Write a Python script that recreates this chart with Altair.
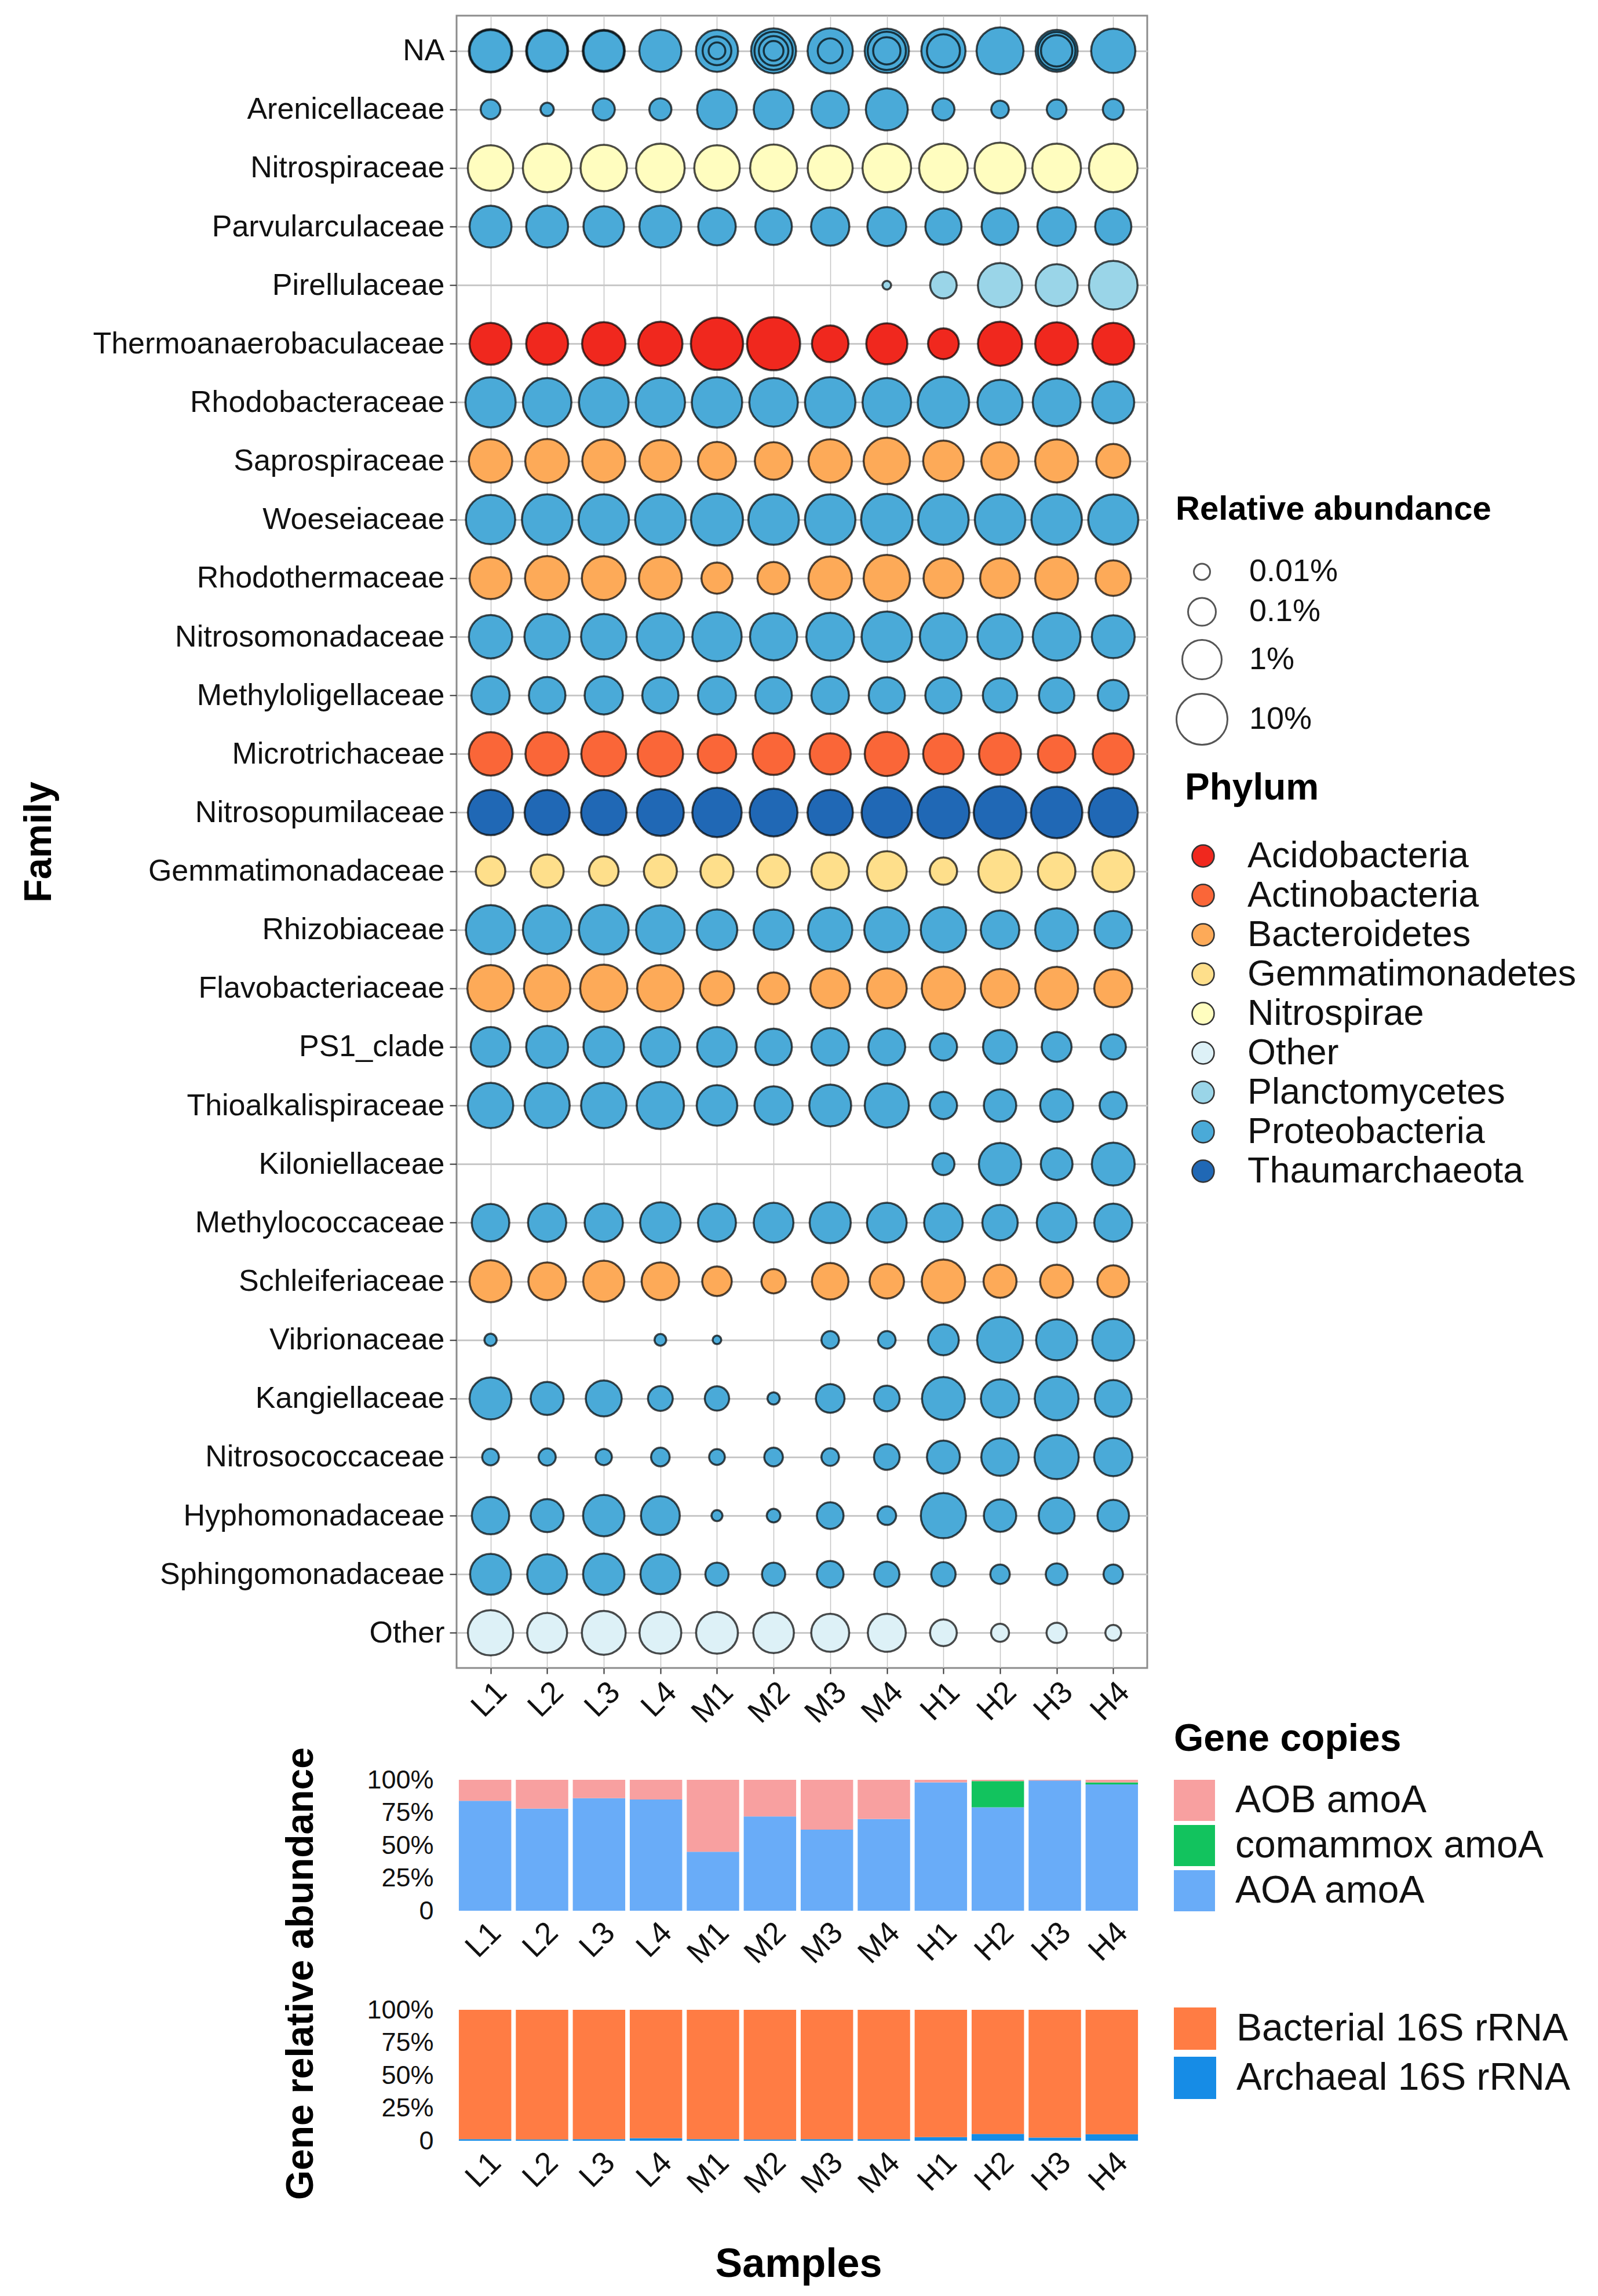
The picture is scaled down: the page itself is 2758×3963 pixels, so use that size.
import altair as alt
import pandas as pd

# ---------------- data ----------------
samples = ["L1", "L2", "L3", "L4", "M1", "M2", "M3", "M4", "H1", "H2", "H3", "H4"]

phyla = ["Acidobacteria", "Actinobacteria", "Bacteroidetes", "Gemmatimonadetes",
         "Nitrospirae", "Other", "Planctomycetes", "Proteobacteria", "Thaumarchaeota"]
phylum_colors = ["#F0281E", "#FA6638", "#FDAA58", "#FEDF8B", "#FFFDBF",
                 "#DDF1F7", "#9AD5E8", "#4AAAD8", "#2068B5"]

families = ["NA", "Arenicellaceae", "Nitrospiraceae", "Parvularculaceae", "Pirellulaceae",
            "Thermoanaerobaculaceae", "Rhodobacteraceae", "Saprospiraceae", "Woeseiaceae",
            "Rhodothermaceae", "Nitrosomonadaceae", "Methyloligellaceae", "Microtrichaceae",
            "Nitrosopumilaceae", "Gemmatimonadaceae", "Rhizobiaceae", "Flavobacteriaceae",
            "PS1_clade", "Thioalkalispiraceae", "Kiloniellaceae", "Methylococcaceae",
            "Schleiferiaceae", "Vibrionaceae", "Kangiellaceae", "Nitrosococcaceae",
            "Hyphomonadaceae", "Sphingomonadaceae", "Other"]

family_phylum = ["Proteobacteria", "Proteobacteria", "Nitrospirae", "Proteobacteria", "Planctomycetes",
                 "Acidobacteria", "Proteobacteria", "Bacteroidetes", "Proteobacteria",
                 "Bacteroidetes", "Proteobacteria", "Proteobacteria", "Actinobacteria",
                 "Thaumarchaeota", "Gemmatimonadetes", "Proteobacteria", "Bacteroidetes",
                 "Proteobacteria", "Proteobacteria", "Proteobacteria", "Proteobacteria",
                 "Bacteroidetes", "Proteobacteria", "Proteobacteria", "Proteobacteria",
                 "Proteobacteria", "Proteobacteria", "Other"]

# relative abundance (%) per sample, None = absent
ab_NA = [2.2, 1.7, 1.7, 1.7, 1.7, 3.0, 3.2, 2.6, 2.6, 4.5, 1.7, 2.6]
ab_NA_2 = [1.6, 1.2, 1.2, None, 0.12, 0.8, 0.056, 0.09, 0.28, None, 0.7, None]
ab_NA_3 = [None, None, None, None, 0.011, 0.14, None, 0.8, None, None, 0.2, None]
ab_NA_4 = [None, None, None, None, None, 0.02, None, None, None, None, None, None]
ab_Arenicellaceae = [0.02, 0.0056, 0.032, 0.032, 1.07, 1.07, 0.69, 1.66, 0.032, 0.013, 0.02, 0.025]
ab_Nitrospiraceae = [3.3, 6.2, 4.0, 6.2, 3.3, 4.4, 3.0, 6.2, 6.2, 9.6, 6.2, 6.2]
ab_Parvularculaceae = [1.66, 1.66, 1.26, 1.66, 0.69, 0.57, 0.8, 0.9, 0.53, 0.6, 0.85, 0.53]
ab_Pirellulaceae = [None, None, None, None, None, None, None, 0.0022, 0.077, 2.6, 1.66, 6.2]
ab_Thermoanaerobaculaceae = [1.66, 1.66, 2.2, 2.6, 12.6, 15.0, 0.57, 1.4, 0.18, 2.6, 2.0, 1.66]
ab_Rhodobacteraceae = [8.5, 6.2, 7.7, 7.2, 8.9, 6.2, 8.9, 6.2, 10.8, 3.1, 5.3, 1.66]
ab_Saprospiraceae = [2.2, 2.4, 2.0, 1.66, 0.75, 0.69, 2.2, 4.0, 1.26, 0.69, 2.0, 0.34]
ab_Woeseiaceae = [7.2, 8.9, 8.9, 8.9, 12.0, 8.9, 8.9, 10.8, 8.9, 8.9, 8.9, 8.3]
ab_Rhodothermaceae = [1.66, 2.6, 2.4, 2.0, 0.19, 0.24, 2.2, 4.0, 1.07, 1.07, 2.0, 0.45]
ab_Nitrosomonadaceae = [2.2, 3.3, 3.3, 4.7, 7.2, 4.7, 5.3, 8.9, 4.7, 3.1, 5.3, 2.0]
ab_Methyloligellaceae = [0.8, 0.57, 0.8, 0.53, 0.75, 0.57, 0.69, 0.53, 0.53, 0.37, 0.45, 0.19]
ab_Microtrichaceae = [2.2, 2.2, 3.0, 3.3, 0.85, 1.66, 1.4, 2.6, 1.26, 1.66, 0.69, 1.4]
ab_Nitrosopumilaceae = [3.3, 3.1, 3.3, 4.4, 7.2, 5.3, 3.3, 8.9, 12.0, 13.5, 10.8, 7.2]
ab_Gemmatimonadaceae = [0.14, 0.28, 0.14, 0.28, 0.28, 0.28, 0.69, 1.07, 0.09, 2.2, 0.69, 1.66]
ab_Rhizobiaceae = [7.2, 6.2, 7.7, 6.2, 1.26, 1.15, 2.6, 3.1, 3.3, 0.85, 2.0, 0.69]
ab_Flavobacteriaceae = [4.0, 4.0, 4.7, 4.0, 0.37, 0.22, 1.07, 1.07, 2.2, 0.85, 2.0, 0.75]
ab_PS1_clade = [1.07, 1.66, 1.26, 1.07, 1.07, 0.57, 0.69, 0.6, 0.09, 0.34, 0.15, 0.06]
ab_Thioalkalispiraceae = [3.3, 3.1, 3.3, 4.7, 1.26, 0.8, 1.66, 2.6, 0.09, 0.25, 0.28, 0.09]
ab_Kiloniellaceae = [None, None, None, None, None, None, None, None, 0.032, 1.8, 0.22, 2.0]
ab_Methylococcaceae = [0.69, 0.8, 0.8, 1.26, 0.75, 1.07, 1.4, 1.07, 0.85, 0.45, 1.07, 0.75]
ab_Schleiferiaceae = [1.66, 0.69, 1.4, 0.69, 0.14, 0.05, 0.57, 0.37, 2.2, 0.28, 0.28, 0.22]
ab_Vibrionaceae = [0.0045, None, None, 0.004, 0.0022, None, 0.013, 0.013, 0.18, 3.6, 1.4, 1.66]
ab_Kangiellaceae = [1.66, 0.28, 0.5, 0.055, 0.05, 0.0045, 0.12, 0.065, 2.0, 0.8, 2.4, 0.6]
ab_Nitrosococcaceae = [0.011, 0.012, 0.01, 0.016, 0.009, 0.016, 0.013, 0.065, 0.28, 0.69, 2.6, 0.8]
ab_Hyphomonadaceae = [0.68, 0.28, 1.48, 0.9, 0.0035, 0.006, 0.08, 0.016, 3.2, 0.25, 0.5, 0.21]
ab_Sphingomonadaceae = [1.35, 1.1, 1.48, 1.1, 0.04, 0.04, 0.08, 0.06, 0.05, 0.019, 0.03, 0.019]
ab_Other = [3.2, 1.1, 2.4, 1.6, 1.6, 1.26, 0.75, 0.75, 0.08, 0.014, 0.022, 0.009]

# gene copies (%), stacked
gene_labels = ["AOB amoA", "comammox amoA", "AOA amoA"]
gene_colors = ["#F8A0A0", "#12C35E", "#69ACF8"]
aob_amoA = [16.0, 22.0, 14.0, 15.0, 55.0, 28.0, 38.0, 30.0, 2.0, 1.0, 0.5, 2.0]
comammox_amoA = [0, 0, 0, 0, 0, 0, 0, 0, 0, 20.0, 0, 1.5]
aoa_amoA = [84.0, 78.0, 86.0, 85.0, 45.0, 72.0, 62.0, 70.0, 98.0, 79.0, 99.5, 96.5]

rrna_labels = ["Bacterial 16S rRNA", "Archaeal 16S rRNA"]
rrna_colors = ["#FF7C44", "#168CE6"]
archaeal_16S = [1.2, 1.0, 1.2, 2.0, 1.2, 1.0, 1.2, 1.2, 2.8, 5.2, 2.4, 5.0]
bacterial_16S = [100 - a for a in archaeal_16S]

# ---------------- tables ----------------
family_series = [
    ("NA", ab_NA), ("NA", ab_NA_2), ("NA", ab_NA_3), ("NA", ab_NA_4),
    ("Arenicellaceae", ab_Arenicellaceae), ("Nitrospiraceae", ab_Nitrospiraceae),
    ("Parvularculaceae", ab_Parvularculaceae), ("Pirellulaceae", ab_Pirellulaceae),
    ("Thermoanaerobaculaceae", ab_Thermoanaerobaculaceae), ("Rhodobacteraceae", ab_Rhodobacteraceae),
    ("Saprospiraceae", ab_Saprospiraceae), ("Woeseiaceae", ab_Woeseiaceae),
    ("Rhodothermaceae", ab_Rhodothermaceae), ("Nitrosomonadaceae", ab_Nitrosomonadaceae),
    ("Methyloligellaceae", ab_Methyloligellaceae), ("Microtrichaceae", ab_Microtrichaceae),
    ("Nitrosopumilaceae", ab_Nitrosopumilaceae), ("Gemmatimonadaceae", ab_Gemmatimonadaceae),
    ("Rhizobiaceae", ab_Rhizobiaceae), ("Flavobacteriaceae", ab_Flavobacteriaceae),
    ("PS1_clade", ab_PS1_clade), ("Thioalkalispiraceae", ab_Thioalkalispiraceae),
    ("Kiloniellaceae", ab_Kiloniellaceae), ("Methylococcaceae", ab_Methylococcaceae),
    ("Schleiferiaceae", ab_Schleiferiaceae), ("Vibrionaceae", ab_Vibrionaceae),
    ("Kangiellaceae", ab_Kangiellaceae), ("Nitrosococcaceae", ab_Nitrosococcaceae),
    ("Hyphomonadaceae", ab_Hyphomonadaceae), ("Sphingomonadaceae", ab_Sphingomonadaceae),
    ("Other", ab_Other),
]
phylum_of = dict(zip(families, family_phylum))
rows = []
for fam, vals in family_series:
    for s, v in zip(samples, vals):
        if v is not None:
            rows.append({"family": fam, "sample": s, "ab": v, "phylum": phylum_of[fam]})
bubble_df = pd.DataFrame(rows)

gene_rows = []
for i, s in enumerate(samples):
    for lab, vals, o in [("AOA amoA", aoa_amoA, 0), ("comammox amoA", comammox_amoA, 1), ("AOB amoA", aob_amoA, 2)]:
        if vals[i] > 0:
            gene_rows.append({"sample": s, "gene": lab, "value": vals[i], "ord": o})
gene_df = pd.DataFrame(gene_rows)

rrna_rows = []
for i, s in enumerate(samples):
    for lab, vals, o in [("Archaeal 16S rRNA", archaeal_16S, 0), ("Bacterial 16S rRNA", bacterial_16S, 1)]:
        rrna_rows.append({"sample": s, "gene": lab, "value": vals[i], "ord": o})
rrna_df = pd.DataFrame(rrna_rows)

# ---------------- bubble chart ----------------
size_label = ("datum.value < 2 ? '0.01%' : datum.value < 3 ? '0.1%' : "
              "datum.value < 4 ? '1%' : '10%'")

bubbles = alt.Chart(bubble_df).transform_calculate(
    lv="log(datum.ab) / LN10 + 3.4"
).mark_circle(opacity=1, stroke="black", strokeOpacity=0.7, strokeWidth=3.5).encode(
    x=alt.X("sample:N", sort=samples,
            scale=alt.Scale(type="point", padding=0.6),
            axis=alt.Axis(title=None, labelAngle=-45, labelAlign="right", labelBaseline="top",
                          labelFontSize=54, labelPadding=4, tickSize=10, tickWidth=2,
                          tickColor="#333333", domain=False, grid=True,
                          gridColor="#C4C4C4", gridWidth=1.5)),
    y=alt.Y("family:N", sort=families,
            scale=alt.Scale(type="point", padding=0.6),
            axis=alt.Axis(title="Family", titleFontSize=66, titleFontWeight="bold",
                          titlePadding=58, labelFontSize=52, labelLimit=2000, labelPadding=9,
                          maxExtent=2000, tickSize=12, tickWidth=2, tickColor="#333333",
                          domain=False, grid=True, gridColor="#C8C8C8", gridWidth=3)),
    size=alt.Size("lv:Q",
                  scale=alt.Scale(type="pow", exponent=2, domain=[0, 5.4], range=[0, 11664]),
                  legend=alt.Legend(title="Relative abundance", orient="none",
                                    legendX=1241, legendY=824, padding=0,
                                    values=[1.4, 2.4, 3.4, 4.4], labelExpr=size_label,
                                    titleFontSize=58, titleFontWeight="bold", titleBaseline="top",
                                    titlePadding=51, titleLimit=2000, labelLimit=2000,
                                    labelFontSize=54, labelOffset=36,
                                    rowPadding=12, symbolFillColor="white",
                                    symbolStrokeColor="#555555", symbolStrokeWidth=3,
                                    symbolOpacity=1)),
    color=alt.Color("phylum:N", scale=alt.Scale(domain=phyla, range=phylum_colors),
                    legend=alt.Legend(title="Phylum", orient="none", legendX=1257, legendY=1302,
                                      padding=0, titleFontSize=64, titleFontWeight="bold",
                                      titleBaseline="top", titlePadding=53, titleLimit=2000,
                                      labelLimit=2000, labelFontSize=63,
                                      labelOffset=45, rowPadding=4, symbolType="circle",
                                      symbolSize=1444, symbolStrokeColor="#333333",
                                      symbolStrokeWidth=2.5, symbolOpacity=1)),
    order=alt.Order("ab:Q", sort="descending"),
).properties(width=1192, height=2852,
             view=alt.ViewBackground(stroke="#8C8C8C", strokeWidth=3))

# ---------------- bar charts ----------------
pct_label = "datum.value == 0 ? '0' : datum.value + '%'"


def bar_chart(df, labels, colors, legend, x_title):
    xaxis = alt.Axis(title=x_title, labelAngle=-45, labelAlign="right", labelBaseline="top",
                     labelFontSize=54, labelPadding=10, ticks=False, domain=False,
                     titleFontSize=70, titleFontWeight="bold", titlePadding=78)
    return alt.Chart(df).mark_bar().encode(
        x=alt.X("sample:N", sort=samples,
                scale=alt.Scale(paddingInner=0.08, paddingOuter=0.04), axis=xaxis),
        y=alt.Y("value:Q", stack="zero", scale=alt.Scale(domain=[0, 100], nice=False),
                axis=alt.Axis(title=None, values=[0, 25, 50, 75, 100], labelExpr=pct_label,
                              labelFontSize=45, labelPadding=40, ticks=False, domain=False,
                              grid=False)),
        color=alt.Color("gene:N", scale=alt.Scale(domain=labels, range=colors), legend=legend),
        order=alt.Order("ord:Q"),
    ).properties(width=1180, height=226)


legend1 = alt.Legend(title="Gene copies", orient="none", legendX=1238, legendY=-102, padding=0,
                     titleFontSize=66, titleFontWeight="bold", titleBaseline="top",
                     titlePadding=36, titleLimit=2000, labelLimit=2000,
                     labelFontSize=66, labelOffset=35, rowPadding=7,
                     symbolType="square", symbolSize=5041, symbolStrokeWidth=0, symbolOpacity=1)
legend2 = alt.Legend(title=None, orient="none", legendX=1238, legendY=-4, padding=0,
                     labelLimit=2000, labelFontSize=66, labelOffset=35, rowPadding=12,
                     symbolType="square", symbolSize=5329, symbolStrokeWidth=0, symbolOpacity=1)

bar1 = bar_chart(gene_df, gene_labels, gene_colors, legend1, None)
bar2 = bar_chart(rrna_df, rrna_labels, rrna_colors, legend2, "Samples")

bars = alt.vconcat(bar1, bar2, spacing=46,
                   title=alt.TitleParams("Gene relative abundance", orient="left", anchor="middle",
                                         fontSize=66, fontWeight="bold", offset=78, color="black",
                                         dx=50)
                   ).resolve_scale(color="independent", x="independent", y="independent")

chart = alt.vconcat(bubbles, bars, spacing=-17).resolve_scale(
    color="independent", x="independent", y="independent", size="independent"
).properties(
    padding={"left": 25, "top": 17, "right": 5, "bottom": 5}
).configure(
    font="Liberation Sans"
).configure_view(
    stroke="transparent"
).configure_axis(
    labelColor="#111111", titleColor="#000000"
).configure_legend(
    labelColor="#111111", titleColor="#000000"
)

chart.save("out.html", embed_options={"renderer": "svg", "actions": False})
